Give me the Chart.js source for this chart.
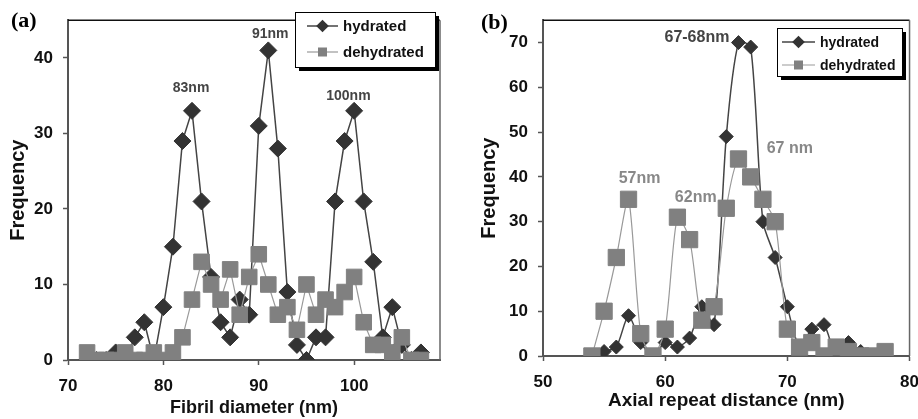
<!DOCTYPE html>
<html>
<head>
<meta charset="utf-8">
<script src="https://cdn.jsdelivr.net/npm/chart.js@4.4.1/dist/chart.umd.min.js"></script>
<style>
  html, body { margin: 0; padding: 0; background: #fff; overflow: hidden; }
  #wrap { position: relative; width: 918px; height: 419px; }
  canvas { position: absolute; top: 0; }
  #chartA { left: 0; }
  #chartB { left: 460px; }
  .painel { position: absolute; font-family: "Liberation Serif", "Times New Roman", serif; font-weight: bold; font-size: 22px; color: #000; }
</style>
</head>
<body>
<div id="wrap">
  <canvas id="chartA" width="455" height="419"></canvas>
  <canvas id="chartB" width="470" height="419"></canvas>
  <div class="painel" style="left:11px; top:7px;">(a)</div>
  <div class="painel" style="left:481px; top:9px;">(b)</div>
</div>
<script>
// (a) fibril diameter histogram
diameterA = [72, 73, 74, 75, 76, 77, 78, 79, 80, 81, 82, 83, 84, 85, 86, 87, 88, 89,
             90, 91, 92, 93, 94, 95, 96, 97, 98, 99, 100, 101, 102, 103, 104, 105, 106, 107];
hydratedA = [0, 0, 0, 1, 0, 3, 5, 0, 7, 15, 29, 33, 21, 11, 5, 3, 8, 6,
             31, 41, 28, 9, 2, 0, 3, 3, 21, 29, 33, 21, 13, 3, 7, 2, 0, 1];
dehydratedA = [1, 0, 0, 0, 1, 0, 0, 1, 0, 1, 3, 8, 13, 10, 8, 12, 6, 11,
               14, 10, 6, 7, 4, 10, 6, 8, 7, 9, 11, 5, 2, 2, 1, 3, 0, 0];

// (b) axial repeat distance histogram
repeatHydB = [55, 56, 57, 58, 59, 60, 61, 62, 63, 64, 65, 66, 67, 68, 69, 70, 71, 72, 73, 74, 75, 76, 77];
hydratedB = [1, 2, 9, 3, 0, 3, 2, 4, 11, 7, 49, 70, 69, 30, 22, 11, 2, 6, 7, 0, 3, 1, 0];
repeatDehydB = [54, 55, 56, 57, 58, 59, 60, 61, 62, 63, 64, 65, 66, 67, 68, 69, 70, 71, 72, 73, 74, 75, 76, 77, 78];
dehydratedB = [0, 10, 22, 35, 5, 0, 6, 31, 26, 8, 11, 33, 44, 40, 35, 30, 6, 2, 3, 0, 2, 1, 0, 0, 1];

serieNomes = ["hydrated", "dehydrated"];

function pontos(xs, ys) {
    return xs.map((x, i) => ({ x: x, y: ys[i] }));
}

const fonte = '"Liberation Sans", Arial, sans-serif';

// frame, value notes and boxed legend
const extras = {
    id: 'extras',
    afterDatasetsDraw(chart, args, opts) {
        const ctx = chart.ctx;
        const a = chart.chartArea;
        const xs = chart.scales.x, ys = chart.scales.y;
        ctx.save();
        ctx.lineWidth = 1.5;
        ctx.strokeStyle = '#111';
        ctx.beginPath(); ctx.moveTo(a.left, a.top); ctx.lineTo(a.right, a.top); ctx.stroke();
        ctx.strokeStyle = '#666';
        ctx.beginPath(); ctx.moveTo(a.right, a.top); ctx.lineTo(a.right, a.bottom); ctx.stroke();

        ctx.textAlign = 'center';
        ctx.textBaseline = 'middle';
        opts.notas.forEach(n => {
            ctx.font = n.font;
            ctx.fillStyle = n.color;
            ctx.fillText(n.text, xs.getPixelForValue(n.x), ys.getPixelForValue(n.y));
        });

        const L = opts.legenda;
        ctx.fillStyle = '#000';
        ctx.fillRect(L.x + 4, L.y + 4, L.w, L.h);
        ctx.fillStyle = '#fff';
        ctx.fillRect(L.x, L.y, L.w, L.h);
        ctx.strokeStyle = '#000';
        ctx.lineWidth = 1;
        ctx.strokeRect(L.x + 0.5, L.y + 0.5, L.w, L.h);
        ctx.textAlign = 'left';
        ctx.font = L.font;
        chart.data.datasets.forEach((ds, i) => {
            const y = L.y + L.row0 + i * L.rowH;
            ctx.strokeStyle = ds.borderColor;
            ctx.lineWidth = ds.borderWidth;
            ctx.beginPath(); ctx.moveTo(L.x + L.l0, y); ctx.lineTo(L.x + L.l1, y); ctx.stroke();
            const cx = L.x + (L.l0 + L.l1) / 2;
            ctx.fillStyle = ds.pointBackgroundColor;
            if (ds.pointStyle == 'rectRot') {
                const r = L.mk * 0.7;
                ctx.beginPath();
                ctx.moveTo(cx, y - r); ctx.lineTo(cx + r, y); ctx.lineTo(cx, y + r); ctx.lineTo(cx - r, y);
                ctx.closePath(); ctx.fill();
            } else {
                ctx.fillRect(cx - L.mk / 2, y - L.mk / 2, L.mk, L.mk);
            }
            ctx.fillStyle = '#111';
            ctx.fillText(ds.label, L.x + L.tx, y + 1);
        });
        ctx.restore();
    }
};

function eixos(xMin, xMax, yMax, xTitulo, yW, xH, tituloPadX, tituloPadY, tituloSize) {
    return {
        x: {
            type: 'linear', min: xMin, max: xMax,
            afterFit: s => { s.height = xH; },
            border: { color: '#555', width: 2 },
            grid: { drawOnChartArea: false, tickLength: 5, tickColor: '#555', tickWidth: 1.5 },
            ticks: { stepSize: 10, includeBounds: false, padding: 11, color: '#111',
                     font: { family: fonte, size: 17, weight: 'bold' } },
            title: { display: true, text: xTitulo, color: '#111', padding: { top: 0, bottom: tituloPadX },
                     font: { family: fonte, size: tituloSize, weight: 'bold' } }
        },
        y: {
            min: 0, max: yMax,
            afterFit: s => { s.width = yW; },
            border: { color: '#555', width: 2 },
            grid: { drawOnChartArea: false, tickLength: 5, tickColor: '#555', tickWidth: 1.5 },
            ticks: { stepSize: 10, includeBounds: false, padding: 10, color: '#111',
                     font: { family: fonte, size: 17, weight: 'bold' } },
            title: { display: true, text: 'Frequency', color: '#111', padding: { top: tituloPadY, bottom: 0 },
                     font: { family: fonte, size: 20, weight: 'bold' } }
        }
    };
}

function series(hx, hy, dx, dy, rH, rD, tension) {
    return [{
        label: serieNomes[0],
        data: pontos(hx, hy),
        borderColor: '#444', borderWidth: 1.5,
        pointStyle: 'rectRot', pointRadius: rH,
        pointBackgroundColor: '#333', pointBorderColor: '#333', pointBorderWidth: 1,
        tension: tension, order: 1
    }, {
        label: serieNomes[1],
        data: pontos(dx, dy),
        borderColor: '#999', borderWidth: 1.2,
        pointStyle: 'rect', pointRadius: rD,
        pointBackgroundColor: '#808080', pointBorderColor: '#808080', pointBorderWidth: 1,
        tension: tension, order: 0
    }];
}

const chartA = new Chart(document.getElementById('chartA'), {
    type: 'line',
    data: { datasets: series(diameterA, hydratedA, diameterA, dehydratedA, 8.5, 11, 0) },
    options: {
        responsive: false, animation: false, devicePixelRatio: 1,
        layout: { padding: { left: 0, top: 12, right: 15, bottom: 0 } },
        scales: eixos(70, 109, 45, 'Fibril diameter (nm)', 68, 59, 0, 6, 18),
        plugins: {
            legend: { display: false }, tooltip: { enabled: false },
            extras: {
                notas: [
                    { text: '83nm', x: 82.9, y: 36, color: '#444', font: 'bold 14px ' + fonte },
                    { text: '91nm', x: 91.2, y: 43.2, color: '#444', font: 'bold 14px ' + fonte },
                    { text: '100nm', x: 99.4, y: 35, color: '#444', font: 'bold 14px ' + fonte }
                ],
                legenda: { x: 295, y: 12, w: 140, h: 55, row0: 14, rowH: 26, l0: 12, l1: 43, tx: 48, mk: 9,
                           font: 'bold 15px ' + fonte }
            }
        }
    },
    plugins: [extras]
});

const chartB = new Chart(document.getElementById('chartB'), {
    type: 'line',
    data: { datasets: series(repeatHydB, hydratedB, repeatDehydB, dehydratedB, 7, 11.5, 0.25) },
    options: {
        responsive: false, animation: false, devicePixelRatio: 1,
        layout: { padding: { left: 0, top: 17, right: 20, bottom: 0 } },
        scales: eixos(50, 80, 75, 'Axial repeat distance (nm)', 83, 63, 7, 17, 19),
        plugins: {
            legend: { display: false }, tooltip: { enabled: false },
            extras: {
                notas: [
                    { text: '67-68nm', x: 62.6, y: 71.1, color: '#444', font: 'bold 16px ' + fonte },
                    { text: '57nm', x: 57.9, y: 39.7, color: '#888', font: 'bold 16px ' + fonte },
                    { text: '62nm', x: 62.5, y: 35.3, color: '#888', font: 'bold 16px ' + fonte },
                    { text: '67 nm', x: 70.2, y: 46.4, color: '#888', font: 'bold 16px ' + fonte }
                ],
                legenda: { x: 317, y: 28, w: 125, h: 48, row0: 14, rowH: 23, l0: 5, l1: 38, tx: 43, mk: 9,
                           font: 'bold 14px ' + fonte }
            }
        }
    },
    plugins: [extras]
});
</script>
</body>
</html>
